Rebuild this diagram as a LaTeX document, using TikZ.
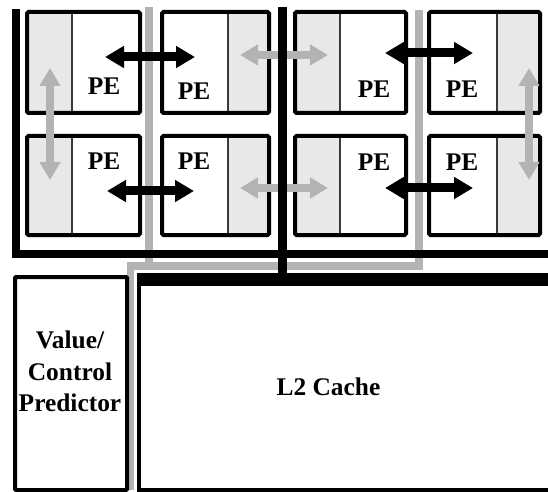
\documentclass[tikz,border=0pt]{standalone}
\usepackage{fontspec}
\setmainfont{Liberation Serif}
\usetikzlibrary{arrows.meta}
\definecolor{busgray}{HTML}{B3B3B3}
\definecolor{lightfill}{HTML}{E8E8E8}
\definecolor{divgray}{HTML}{3A3A3A}
\begin{document}
\begin{tikzpicture}[x=1bp,y=-1bp,
  peframe/.style={draw=black, line width=4bp, rounded corners=1.5bp},
  pefill/.style={fill=lightfill},
  divider/.style={draw=divgray, line width=1.4bp},
  pelabel/.style={font=\bfseries\fontsize{25.5}{30}\selectfont, inner sep=0pt, anchor=base},
  bigbox/.style={draw=black, line width=4bp, rounded corners=1bp},
  bigtext/.style={font=\bfseries\fontsize{25.5}{31.5}\selectfont, inner sep=0pt, align=center},
  blackbus/.style={draw=black, line width=8bp, line join=miter},
  graybus/.style={draw=busgray, line width=7.5bp, line join=miter},
  blackarrow/.style={draw=black, line width=9bp,
    arrows={Triangle[length=19bp,width=21bp]-Triangle[length=19bp,width=21bp]}},
  grayarrow/.style={draw=busgray, line width=7.5bp,
    arrows={Triangle[length=18bp,width=20bp]-Triangle[length=18bp,width=20bp]}}
]
\useasboundingbox (0,0) rectangle (548,492);
\fill[white] (0,0) rectangle (548,492);

% ---- PE boxes (row 1: y 12..113, row 2: y 136..235)
% box 1 (gray left)
\fill[pefill] (27,12) rectangle (72,113);
\draw[divider] (72,12) -- (72,113);
\path[peframe] (27,12) rectangle (140,113);
\fill[pefill] (27,136) rectangle (72,235);
\draw[divider] (72,136) -- (72,235);
\path[peframe] (27,136) rectangle (140,235);
% box 2 (gray right)
\fill[pefill] (228,12) rectangle (269,113);
\draw[divider] (228,12) -- (228,113);
\path[peframe] (162,12) rectangle (269,113);
\fill[pefill] (228,136) rectangle (269,235);
\draw[divider] (228,136) -- (228,235);
\path[peframe] (162,136) rectangle (269,235);
% box 3 (gray left)
\fill[pefill] (295,12) rectangle (340,113);
\draw[divider] (340,12) -- (340,113);
\path[peframe] (295,12) rectangle (406,113);
\fill[pefill] (295,136) rectangle (340,235);
\draw[divider] (340,136) -- (340,235);
\path[peframe] (295,136) rectangle (406,235);
% box 4 (gray right)
\fill[pefill] (497,12) rectangle (540,113);
\draw[divider] (497,12) -- (497,113);
\path[peframe] (429,12) rectangle (540,113);
\fill[pefill] (497,136) rectangle (540,235);
\draw[divider] (497,136) -- (497,235);
\path[peframe] (429,136) rectangle (540,235);

% ---- labels
\node[pelabel] (pe11) at (104,95) {PE};
\node[pelabel] (pe12) at (194,100) {PE};
\node[pelabel] (pe13) at (374,98) {PE};
\node[pelabel] (pe14) at (462,98) {PE};
\node[pelabel] (pe21) at (104,170) {PE};
\node[pelabel] (pe22) at (194,170) {PE};
\node[pelabel] (pe23) at (374,170.5) {PE};
\node[pelabel] (pe24) at (462,170.5) {PE};

% ---- gray buses
\coordinate (gl1) at (149,7);
\coordinate (gl2) at (149,266);
\coordinate (gr1) at (419,10);
\coordinate (gc) at (419,266);
\coordinate (gd1) at (130.5,266);
\coordinate (gd2) at (130.5,490);
\draw[graybus] (gl1) -- (gl2);
\draw[graybus] (gr1) -- (gc) -- (gd1) -- (gd2);

% ---- gray arrows
\coordinate (ga1) at (240,55);
\coordinate (ga2) at (328,55);
\coordinate (gb1) at (240,188);
\coordinate (gb2) at (328,188);
\coordinate (gv1) at (50,68);
\coordinate (gv2) at (50,180);
\coordinate (gw1) at (529,68);
\coordinate (gw2) at (529,180);
\draw[grayarrow] (ga1) -- (ga2);
\draw[grayarrow] (gb1) -- (gb2);
\draw[grayarrow] (gv1) -- (gv2);
\draw[grayarrow] (gw1) -- (gw2);

% ---- lower boxes
\node[bigbox, minimum width=112bp, minimum height=213bp, anchor=north west] (pred) at (13,275) {};
\node[bigtext] (predtext) at (70,371.5) {Value/\\Control\\Predictor};
\draw[black, line width=4bp] (556,275) -- (139,275) -- (139,490) -- (556,490);
\node[bigtext, anchor=base] (l2) at (328.5,395) {L2 Cache};

% ---- black buses
\coordinate (bl1) at (16,9);
\coordinate (bl2) at (16,253.5);
\coordinate (bl3) at (548,253.5);
\coordinate (bm1) at (282.5,7);
\coordinate (bm2) at (282.5,285);
\coordinate (bt1) at (137,279.5);
\coordinate (bt2) at (548,279.5);
\draw[blackbus] (bl1) -- (bl2) -- (bl3);
\draw[black, line width=9bp] (bm1) -- (bm2);
\draw[black, line width=13bp] (bt1) -- (bt2);

% ---- black arrows
\coordinate (ba1) at (105,57);
\coordinate (ba2) at (195,57);
\coordinate (bb1) at (107,191);
\coordinate (bb2) at (194,191);
\coordinate (bc1) at (385,53);
\coordinate (bc2) at (473,53);
\coordinate (bd1) at (385,188);
\coordinate (bd2) at (473,188);
\draw[blackarrow] (ba1) -- (ba2);
\draw[blackarrow] (bb1) -- (bb2);
\draw[blackarrow] (bc1) -- (bc2);
\draw[blackarrow] (bd1) -- (bd2);
\end{tikzpicture}
\end{document}
